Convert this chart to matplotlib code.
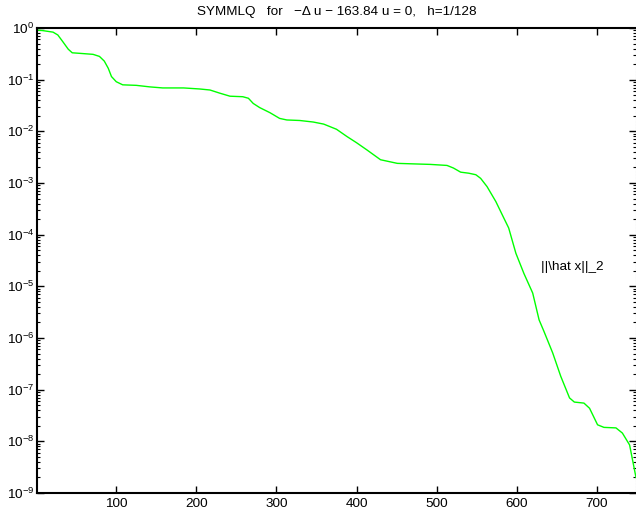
import matplotlib
matplotlib.use("Agg")
import matplotlib.pyplot as plt
import numpy as np
from matplotlib.ticker import FixedLocator, NullFormatter, LogFormatterSciNotation

plt.rcParams['font.family'] = ['Liberation Sans', 'DejaVu Sans']
plt.rcParams['mathtext.fontset'] = 'custom'
plt.rcParams['mathtext.rm'] = 'Liberation Sans'
plt.rcParams['mathtext.it'] = 'Liberation Sans:italic'
plt.rcParams['mathtext.bf'] = 'Liberation Sans:bold'

# iteration numbers and log10 of ||x_hat||_2
iters = [1, 8, 21, 27, 33, 40, 45, 54, 71, 79, 85, 90, 94, 100, 108, 125, 142, 158,
         184, 204, 217, 229, 242, 258, 265, 271, 279, 292, 304, 313, 329, 346, 359,
         375, 388, 400, 413, 430, 451, 471, 492, 513, 521, 530, 540, 549, 555, 563,
         574, 584, 590, 599, 609, 620, 628, 634, 645, 655, 666, 672, 684, 691, 701,
         709, 724, 732, 741, 749]
log_norm = [-0.04, -0.05, -0.08, -0.135, -0.26, -0.41, -0.48, -0.49, -0.51, -0.55,
            -0.64, -0.78, -0.94, -1.04, -1.10, -1.11, -1.14, -1.16, -1.16, -1.18,
            -1.20, -1.26, -1.32, -1.33, -1.36, -1.46, -1.54, -1.64, -1.75, -1.78,
            -1.79, -1.82, -1.86, -1.96, -2.10, -2.22, -2.36, -2.55, -2.62, -2.63,
            -2.64, -2.66, -2.71, -2.79, -2.81, -2.84, -2.91, -3.07, -3.36, -3.68,
            -3.87, -4.36, -4.75, -5.13, -5.65, -5.87, -6.29, -6.74, -7.16, -7.24,
            -7.26, -7.36, -7.68, -7.73, -7.74, -7.84, -8.07, -8.70]
xticks = [100, 200, 300, 400, 500, 600, 700]
ydecades = [-9, -8, -7, -6, -5, -4, -3, -2, -1, 0]
title = "SYMMLQ   for   \u2212\u0394 u \u2212 163.84 u = 0,   h=1/128"
label = "||\\hat x||_2"

fs = 9.7
fig = plt.figure(figsize=(6.36, 5.23), dpi=100)
ax = fig.add_axes([37/636, 1-493/523, 1-37/636, (493-28)/523])
ax.semilogy(iters, 10.0**np.array(log_norm), color=(0, 1, 0), lw=1.0)
ax.set_xlim(1, 749)
ax.set_ylim(1e-9, 1e0)
ax.xaxis.set_major_locator(FixedLocator(xticks))
major = [10.0**d for d in ydecades]
minor = [m * 10.0**d for d in ydecades[:-1] for m in range(2, 10)]
ax.yaxis.set_major_locator(FixedLocator(major))
ax.yaxis.set_major_formatter(LogFormatterSciNotation())
ax.yaxis.set_minor_locator(FixedLocator(minor))
ax.yaxis.set_minor_formatter(NullFormatter())
ax.tick_params(which='both', direction='in', top=True, right=True, labelsize=fs)
ax.tick_params(which='major', length=5, width=1)
ax.tick_params(which='minor', length=2.5, width=0.8)
ax.tick_params(axis='y', pad=2)
for s in ['left', 'bottom', 'top']:
    ax.spines[s].set_linewidth(1.5)
ax.spines['right'].set_color('#bbbbbb')
ax.spines['right'].set_linestyle(':')
ax.set_title(title, fontsize=fs, pad=9)
ax.text(630, 10**-4.62, label, fontsize=fs, va='center', ha='left')
fig.savefig("out.png", dpi=100)
